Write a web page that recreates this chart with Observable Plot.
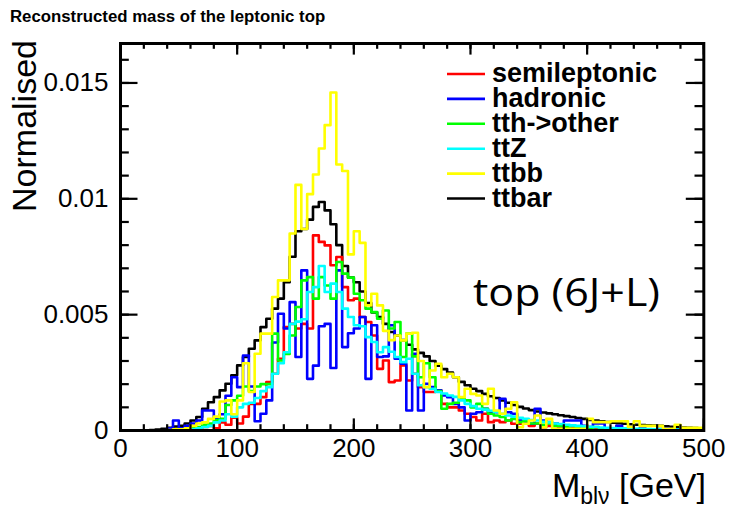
<!DOCTYPE html>
<html><head><meta charset="utf-8">
<script src="https://cdn.jsdelivr.net/npm/d3@7"></script>
<script src="https://cdn.jsdelivr.net/npm/@observablehq/plot@0.6"></script>
<style>
body{margin:0;background:#fff;}
#wrap{position:relative;width:730px;height:509px;overflow:hidden;font-family:"Liberation Sans",Arial,Helvetica,sans-serif;}
#wrap svg{position:absolute;left:0;top:0;}
</style></head><body><div id="wrap"></div>
<script>
// ---- data (bin contents in units of 1e-3, 5 GeV bins from 0 to 500 GeV) ----
const binWidth = 5;
const binStarts = d3.range(0, 500, binWidth);
const yUnit = 1e-3;

const semileptonic = [
  0,0,0,0,0,0,0,0,0,0.02,
  0.02,0.03,0.05,0.1,0.15,0.2,0.1,0.35,0.25,0.55,
  0.3,0.6,1.15,1.15,1.44,2.09,2.45,3.1,4.46,4.6,
  4.4,4.6,4.4,8.42,8.14,7.99,7.13,7.49,6.19,5.62,
  5.69,4.9,4.68,4.1,2.66,3.02,2.09,2.16,2.81,2.16,
  2.45,1.87,1.66,1.66,1.73,1.15,1.0,1.0,0.86,0.72,
  0.58,0.43,0.72,0.36,0.43,0.36,0.43,0.29,0.29,0.29,
  0.2,0.29,0.14,0.2,0.2,0.14,0.2,0.1,0.14,0.1,
  0.07,0.1,0.07,0.05,0.07,0.05,0.05,0.03,0.05,0.03,
  0.02,0.03,0.02,0.02,0.01,0.02,0.01,0.01,0.01,0.01
];
const hadronic = [
  0,0,0,0,0,0,0,0,0.1,0.43,
  0.1,0.2,0.3,0.43,0.86,0.86,0.5,0.7,1.5,2.3,
  1.87,3.24,1.9,0.4,0.72,1.3,3.8,5.04,4.4,5.54,
  3.17,6.91,2.23,2.8,4.5,4.6,2.7,6.91,3.6,4.2,
  4.4,4.9,2.23,4.54,3.17,3.2,4.54,3.1,2.88,0.86,
  3.31,0.86,2.02,1.87,1.73,1.51,1.44,1.15,1.0,0.43,
  0.72,0.79,0.94,0.79,0.79,1.37,0.79,0.72,0.43,0.36,
  0.29,0.94,0.43,0.36,0.3,0.2,0.43,0.43,0.43,0.2,
  0.15,0.3,0.3,0.1,0.1,0.2,0.1,0.1,0.05,0.1,
  0.05,0.05,0.05,0.1,0,0.05,0,0.05,0,0
];
const tthOther = [
  0,0,0,0,0,0,0,0,0,0.02,
  0.03,0.05,0.1,0.15,0.25,0.3,0.45,0.5,1.1,1.3,
  1.5,1.9,1.7,1.9,2.0,2.0,4.18,3.02,3.3,4.1,
  5.33,6.48,6.62,5.69,6.62,6.26,5.69,7.27,6.77,6.6,
  5.9,5.62,5.26,5.11,4.82,5.18,4.4,4.68,3.17,4.18,
  3.2,2.3,2.9,2.3,1.7,0.94,1.15,1.2,1.37,1.3,
  1.0,1.15,0.94,0.72,0.65,0.58,0.43,0.5,0.36,0.4,
  0.3,0.3,0.25,0.3,0.2,0.2,0.15,0.2,0.15,0.12,
  0.1,0.15,0.1,0.08,0.1,0.06,0.08,0.05,0.05,0.04,
  0.04,0.03,0.05,0.03,0.03,0.02,0.03,0.02,0.02,0.02
];
const ttZ = [
  0,0,0,0,0,0,0,0,0,0.02,
  0.03,0.04,0.05,0.1,0.15,0.2,0.35,0.43,0.7,0.6,
  1.0,1.15,1.2,1.4,1.7,1.87,2.45,2.9,3.38,4.6,
  4.7,4.8,5.98,6.19,7.1,5.98,6.34,5.98,5.26,4.9,
  4.54,4.5,4.03,3.82,3.38,3.6,3.4,3.17,2.95,3.1,
  2.45,1.95,1.87,1.8,1.66,1.6,1.51,1.45,1.3,1.15,
  1.05,0.94,0.9,0.85,0.8,0.72,0.65,0.6,0.55,0.5,
  0.45,0.43,0.38,0.35,0.3,0.28,0.25,0.22,0.2,0.18,
  0.16,0.15,0.13,0.12,0.11,0.1,0.09,0.08,0.07,0.07,
  0.06,0.05,0.05,0.05,0.04,0.04,0.03,0.03,0.03,0.03
];
const ttbb = [
  0,0,0,0,0,0,0,0,0.02,0.05,
  0.05,0.1,0.2,0.3,0.35,0.5,0.6,1.25,1.3,0.7,
  1.3,2.9,1.66,3.31,4.18,4.18,5.76,6.48,6.48,8.5,
  10.6,8.7,10.2,11.05,12.17,13.18,14.59,11.48,11.2,7.6,
  8.6,8.1,5.4,5.9,5.4,4.3,3.9,4.1,3.89,4.18,
  4.22,3.0,1.87,2.59,2.88,2.3,2.45,2.3,1.44,1.8,
  1.58,1.51,1.15,1.8,0.86,0.72,0.94,1.22,0.14,0.29,
  0.43,0.65,0.14,0.5,0.07,0.07,0.07,0.07,0.07,0.07,
  0.5,0.36,0.36,0.36,0.4,0.4,0.4,0.15,0.4,0.2,
  0.2,0.2,0.2,0.07,0.07,0.25,0.12,0.12,0.12,0.12
];
const ttbar = [
  0,0,0,0,0.01,0.02,0.04,0.07,0.12,0.17,
  0.2,0.3,0.43,0.58,0.94,1.22,1.44,1.73,2.02,2.38,
  2.81,3.17,3.53,3.89,4.46,4.82,5.26,5.69,6.4,7.5,
  8.6,8.7,9.1,9.65,9.86,9.5,8.9,8.0,7.1,6.6,
  6.4,6.0,5.5,5.1,4.9,4.6,4.25,4.1,3.9,3.7,
  3.5,3.35,3.2,3.0,2.8,2.65,2.5,2.3,2.1,1.95,
  1.8,1.7,1.58,1.48,1.4,1.3,1.2,1.1,1.02,0.95,
  0.88,0.82,0.78,0.74,0.7,0.66,0.62,0.58,0.54,0.5,
  0.46,0.43,0.4,0.37,0.34,0.31,0.29,0.27,0.25,0.24,
  0.22,0.21,0.2,0.18,0.16,0.15,0.13,0.12,0.11,0.1
];

const seriesNames = ["semileptonic","hadronic","tth->other","ttZ","ttbb","ttbar"];
const seriesValues = [semileptonic, hadronic, tthOther, ttZ, ttbb, ttbar];
const seriesColors = ["#ff0000","#0000ff","#00ff00","#00ffff","#ffff00","#000000"];
const drawOrder = ["ttbar","semileptonic","hadronic","tth->other","ttZ","ttbb"];

const xMajorTicks = [0,100,200,300,400,500];
const xMinorTicks = d3.range(0, 501, 20);
const yMajorTicks = [0,0.005,0.01,0.015];
const yMinorTicks = d3.range(0, 0.0166, 0.001);

const titleText = "Reconstructed mass of the leptonic top";
const yTitle = "Normalised";
const annotation = "top (6J+L)";

// ---- layout ----
const W = 730, H = 509, mL = 120, mR = 26.7, mT = 43, mB = 79;
const innerW = W - mL - mR, innerH = H - mT - mB;
const font = '"Liberation Sans", Arial, Helvetica, sans-serif';

// build step rows
const rowsBySeries = {};
seriesNames.forEach((name, k) => {
  const vals = seriesValues[k];
  const rows = binStarts.map((x0, i) => ({series: name, x: x0, y: vals[i] * yUnit}));
  rows.push({series: name, x: 500, y: vals[vals.length - 1] * yUnit});
  rowsBySeries[name] = rows;
});
const colorOf = Object.fromEntries(seriesNames.map((n, i) => [n, seriesColors[i]]));

const tickStyle = {stroke: "black", strokeWidth: 2.2};
const plot = Plot.plot({
  width: W, height: H,
  marginLeft: mL, marginRight: mR, marginTop: mT, marginBottom: mB,
  style: {fontFamily: font, background: "transparent"},
  x: {domain: [0, 500]},
  y: {domain: [0, 0.016703]},
  marks: [
    ...drawOrder.map(name => Plot.line(rowsBySeries[name], {
      x: "x", y: "y", curve: "step-after", stroke: colorOf[name], strokeWidth: 2.6
    })),
    // x ticks (bottom and top, pointing inward)
    Plot.tickX(xMajorTicks, {x: d => d, insetTop: innerH - 11.6, ...tickStyle}),
    Plot.tickX(xMajorTicks, {x: d => d, insetBottom: innerH - 11.6, ...tickStyle}),
    Plot.tickX(xMinorTicks, {x: d => d, insetTop: innerH - 5.8, ...tickStyle}),
    Plot.tickX(xMinorTicks, {x: d => d, insetBottom: innerH - 5.8, ...tickStyle}),
    // y ticks (left and right, pointing inward)
    Plot.tickY(yMajorTicks, {y: d => d, insetRight: innerW - 17.5, ...tickStyle}),
    Plot.tickY(yMajorTicks, {y: d => d, insetLeft: innerW - 17.5, ...tickStyle}),
    Plot.tickY(yMinorTicks, {y: d => d, insetRight: innerW - 8.8, ...tickStyle}),
    Plot.tickY(yMinorTicks, {y: d => d, insetLeft: innerW - 8.8, ...tickStyle}),
    Plot.axisX({ticks: xMajorTicks, tickSize: 0, tickPadding: 8, fontSize: 26, fill: "black", label: null}),
    Plot.axisY({ticks: yMajorTicks, tickSize: 0, tickPadding: 12, fontSize: 26, fill: "black", label: null,
      tickFormat: d => d === 0 ? "0" : String(+d.toFixed(3))}),
    Plot.frame({stroke: "black", strokeWidth: 3})
  ]
});
const wrap = document.getElementById("wrap");
wrap.appendChild(plot);

// ---- overlay texts and legend ----
const ov = d3.select(wrap).append("svg").attr("width", W).attr("height", H)
  .style("font-family", font);

ov.append("text").attr("x", 10).attr("y", 22).attr("font-size", 16.8).attr("font-weight", "bold")
  .attr("fill", "black").text(titleText);

ov.append("text").attr("transform", "translate(36,40) rotate(-90)").attr("text-anchor", "end")
  .attr("font-size", 34).attr("fill", "black").text(yTitle);

const xt = ov.append("text").attr("x", 706).attr("y", 497).attr("text-anchor", "end")
  .attr("font-size", 34).attr("fill", "black");
xt.append("tspan").text("M");
xt.append("tspan").attr("dy", 7).attr("font-size", 23).text("blν");
xt.append("tspan").attr("dy", -7).text(" [GeV]");

ov.append("text").attr("x", 473).attr("y", 306).attr("font-size", 39)
  .attr("textLength", 187).attr("lengthAdjust", "spacingAndGlyphs")
  .attr("font-family", '"Open Sans", sans-serif').attr("fill", "black").text(annotation);

const legendTop = 74, legendStep = 24.9;
seriesNames.forEach((name, i) => {
  const y = legendTop + i * legendStep;
  ov.append("line").attr("x1", 447).attr("x2", 485).attr("y1", y).attr("y2", y)
    .attr("stroke", seriesColors[i]).attr("stroke-width", 2.6);
  ov.append("text").attr("x", 492).attr("y", y + 8).attr("font-size", 27).attr("font-weight", "bold")
    .attr("textLength", name.length > 0 ? null : null)
    .attr("fill", "black").text(name);
});
</script></body></html>
